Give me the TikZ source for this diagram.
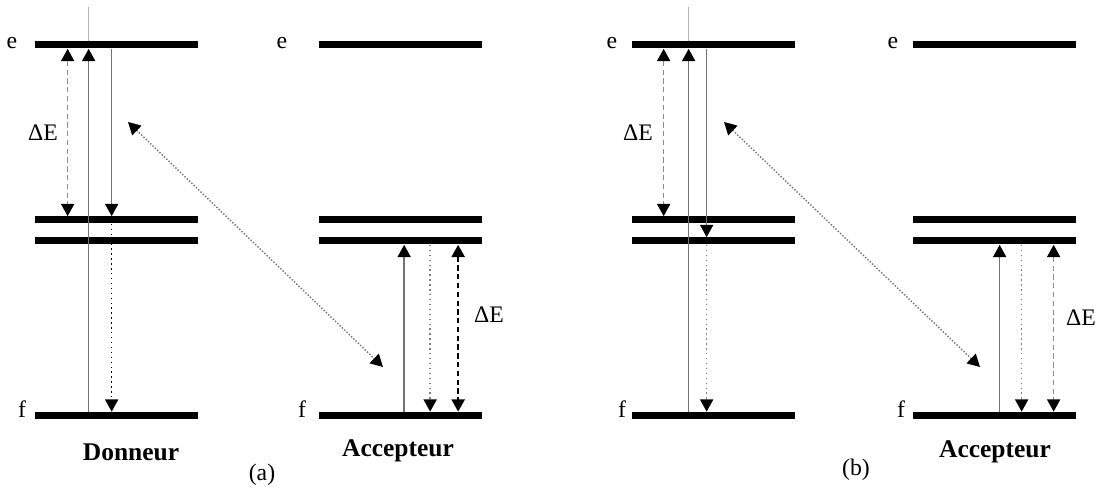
\documentclass[tikz,border=0pt]{standalone}
\usepackage{fontspec}
\setmainfont{Liberation Serif}
\usetikzlibrary{arrows.meta}

\begin{document}
\begin{tikzpicture}[font=\fontsize{13.5}{16}\selectfont,
  bar/.style={fill=black,inner sep=0pt,minimum width=3.26cm,minimum height=0.14cm},
  tip/.style={-{Triangle[width=7.5pt,length=7pt,black]}},
  tips/.style={{Triangle[width=7.5pt,length=7pt,black]}-{Triangle[width=7.5pt,length=7pt,black]}},
  up/.style={tip,black!55,line width=0.8pt},
  down/.style={tip,black!55,line width=0.8pt},
  dots/.style={tip,black!50,line width=0.8pt,dotted},
  dash2/.style={tips,black!45,line width=0.8pt,dash pattern=on 3pt off 2pt},
  transfer/.style={tips,black!55,line width=0.8pt,densely dotted},
  faint/.style={black!30,line width=0.5pt},
  lab/.style={inner sep=0pt},
  heading/.style={inner sep=0pt,font=\fontsize{14.5}{17}\selectfont\bfseries}]
\useasboundingbox (0,0) rectangle (22.04,9.76);

% energy levels: e, two intermediate levels, f
\foreach \p/\x in {aD/2.33,aA/8.00,bD/14.27,bA/19.89}{
  \node[bar] (\p e) at (\x,8.86) {};
  \node[bar] (\p u) at (\x,5.36) {};
  \node[bar] (\p l) at (\x,4.94) {};
  \node[bar] (\p f) at (\x,1.45) {};
}

% (a) donneur
\draw[dash2] ([xshift=0.66cm]aDe.south west) -- ([xshift=0.66cm]aDu.north west);
\draw[faint] ([xshift=1.08cm]aDe.north west) -- ++(0,0.68);
\draw[up] ([xshift=1.08cm]aDf.north west) -- ([xshift=1.08cm]aDe.south west);
\draw[down] ([xshift=1.54cm]aDe.south west) -- ([xshift=1.54cm]aDu.north west);
\draw[tip,black,line width=0.8pt,dotted] ([xshift=1.54cm]aDu.south west) -- ([xshift=1.54cm]aDf.north west);
% (a) accepteur
\draw[up] ([xshift=1.72cm]aAf.north west) -- ([xshift=1.72cm]aAl.south west);
\draw[dots] ([xshift=2.24cm]aAl.south west) -- ([xshift=2.24cm]aAf.north west);
\draw[dash2,black,line width=1.2pt] ([xshift=2.80cm]aAl.south west) -- ([xshift=2.80cm]aAf.north west);
% (b) donneur
\draw[dash2] ([xshift=0.64cm]bDe.south west) -- ([xshift=0.64cm]bDu.north west);
\draw[faint] ([xshift=1.14cm]bDe.north west) -- ++(0,0.68);
\draw[up] ([xshift=1.14cm]bDf.north west) -- ([xshift=1.14cm]bDe.south west);
\draw[down] ([xshift=1.50cm]bDe.south west) -- ([xshift=1.50cm]bDl.north west);
\draw[dots] ([xshift=1.50cm]bDl.south west) -- ([xshift=1.50cm]bDf.north west);
% (b) accepteur
\draw[up] ([xshift=1.74cm]bAf.north west) -- ([xshift=1.74cm]bAl.south west);
\draw[dots] ([xshift=2.18cm]bAl.south west) -- ([xshift=2.18cm]bAf.north west);
\draw[dash2] ([xshift=2.82cm]bAl.south west) -- ([xshift=2.82cm]bAf.north west);

% transfer donneur <-> accepteur
\coordinate (aT1) at (2.56,7.32); \coordinate (aT2) at (7.66,2.42);
\coordinate (bT1) at (14.48,7.32); \coordinate (bT2) at (19.60,2.42);
\draw[transfer] (aT1) -- (aT2);
\draw[transfer] (bT1) -- (bT2);

% labels
\node[lab] (aDel) at (0.24,8.90) {e}; \node[lab] (aDfl) at (0.44,1.58) {f};
\node[lab] (aAel) at (5.64,8.90) {e}; \node[lab] (aAfl) at (6.04,1.58) {f};
\node[lab] (bDel) at (12.24,8.90) {e}; \node[lab] (bDfl) at (12.44,1.58) {f};
\node[lab] (bAel) at (17.86,8.90) {e}; \node[lab] (bAfl) at (18.02,1.58) {f};
\node[lab] (aDd) at (0.86,7.10) {ΔE}; \node[lab] (aAd) at (9.78,3.46) {ΔE};
\node[lab] (bDd) at (12.76,7.10) {ΔE}; \node[lab] (bAd) at (21.62,3.40) {ΔE};
\node[heading] (don) at (2.62,0.72) {Donneur};
\node[heading] (aacc) at (7.96,0.74) {Accepteur};
\node[heading] (bacc) at (19.90,0.72) {Accepteur};
\node[lab] (pa) at (5.24,0.26) {(a)};
\node[lab] (pb) at (17.12,0.36) {(b)};
\end{tikzpicture}
\end{document}
